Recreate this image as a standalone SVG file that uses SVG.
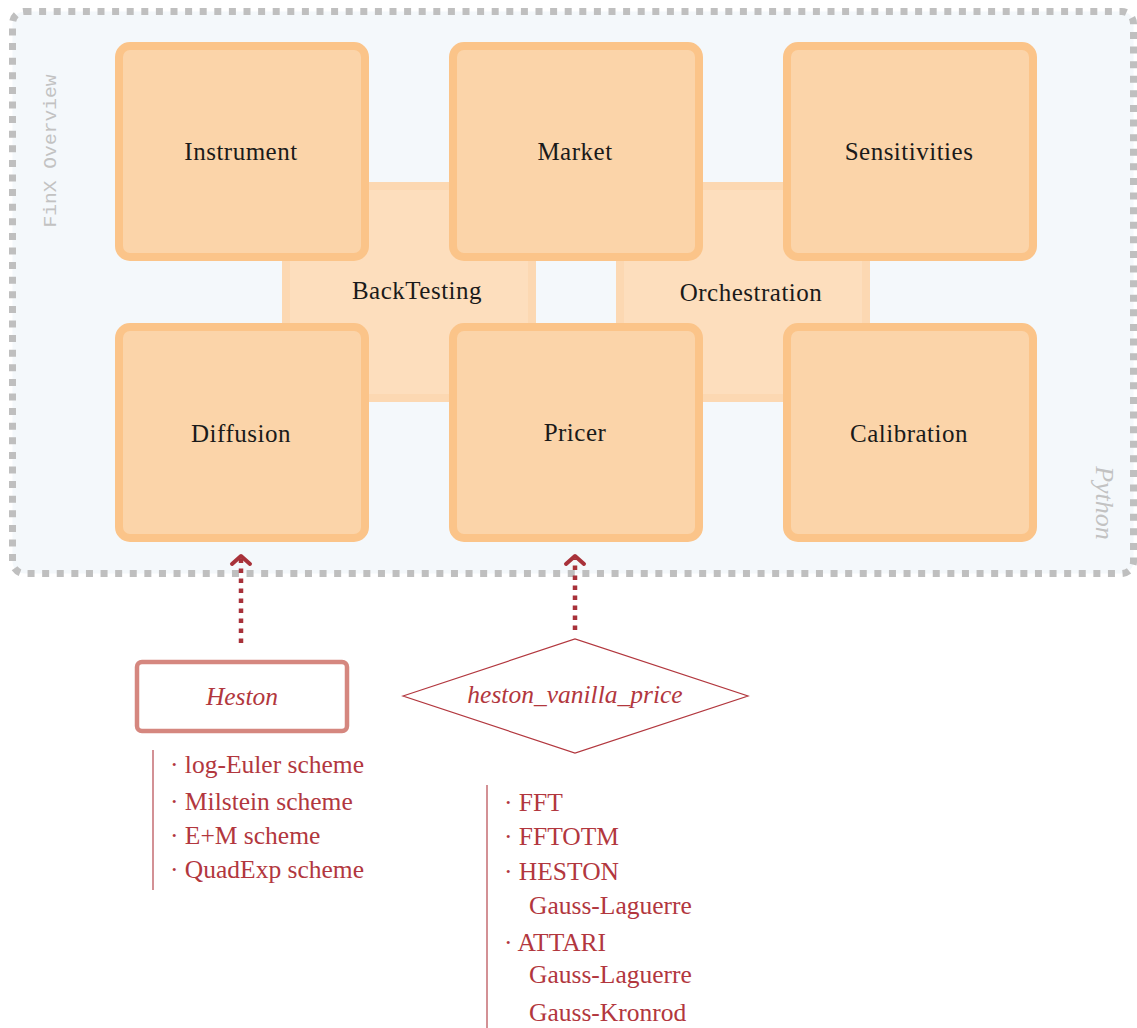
<svg xmlns="http://www.w3.org/2000/svg" width="1137" height="1028" viewBox="0 0 1137 1028">
  <defs>
    <style>
      .frame { fill: #f4f8fb; stroke: #bfbfbf; stroke-width: 7; stroke-dasharray: 7 7.6; }
      .mod { fill: #fbd4a9; stroke: #fbc489; stroke-width: 8; }
      .hub { fill: #fddebd; stroke: #fcd8b2; stroke-width: 8; }
      .lbl { font-family: "Liberation Serif", "DejaVu Serif", serif; font-size: 25px; letter-spacing: 0.5px; fill: #1a1a1a; text-anchor: middle; }
      .red { font-family: "Liberation Serif", "DejaVu Serif", serif; font-size: 25.5px; fill: #b2373e; }
      .ital { font-style: italic; text-anchor: middle; }
      .link { fill: none; stroke: #a8323a; stroke-width: 4.5; stroke-dasharray: 4.5 5.5; }
      .head { fill: none; stroke: #a8323a; stroke-width: 4; stroke-linecap: round; stroke-linejoin: round; }
      .rule { stroke: #c46c72; stroke-width: 1.5; }
    </style>
  </defs>

  <!-- package frame -->
  <g id="finx">
    <rect class="frame" x="12.5" y="11.5" width="1121" height="562" rx="12"/>
    <text x="56" y="151" transform="rotate(-90 56 151)" font-family="Liberation Mono, DejaVu Sans Mono, monospace" font-size="18" fill="#c2c2c2" text-anchor="middle" textLength="153" lengthAdjust="spacingAndGlyphs">FinX Overview</text>
    <text x="1096" y="503" transform="rotate(90 1096 503)" font-family="Liberation Serif, DejaVu Serif, serif" font-style="italic" font-size="26" fill="#c2c2c2" text-anchor="middle">Python</text>
  </g>

  <!-- hub modules behind the grid -->
  <g id="backtesting">
    <rect class="hub" x="286" y="186" width="246" height="212"/>
    <text class="lbl" x="417" y="299">BackTesting</text>
  </g>
  <g id="orchestration">
    <rect class="hub" x="620" y="186" width="246" height="212"/>
    <text class="lbl" x="751" y="301">Orchestration</text>
  </g>

  <!-- top row -->
  <g id="instrument">
    <rect class="mod" x="119" y="46" width="246" height="211" rx="11"/>
    <text class="lbl" x="241" y="160">Instrument</text>
  </g>
  <g id="market">
    <rect class="mod" x="453" y="46" width="246" height="211" rx="11"/>
    <text class="lbl" x="575" y="160">Market</text>
  </g>
  <g id="sensitivities">
    <rect class="mod" x="787" y="46" width="246" height="211" rx="11"/>
    <text class="lbl" x="909" y="160">Sensitivities</text>
  </g>

  <!-- bottom row -->
  <g id="diffusion">
    <rect class="mod" x="119" y="327" width="246" height="211" rx="11"/>
    <text class="lbl" x="241" y="442">Diffusion</text>
  </g>
  <g id="pricer">
    <rect class="mod" x="453" y="327" width="246" height="211" rx="11"/>
    <text class="lbl" x="575" y="441">Pricer</text>
  </g>
  <g id="calibration">
    <rect class="mod" x="787" y="327" width="246" height="211" rx="11"/>
    <text class="lbl" x="909" y="442">Calibration</text>
  </g>

  <!-- implementations -->
  <g id="heston">
    <rect x="137" y="662" width="210" height="69" rx="5" fill="#ffffff" stroke="#d5877f" stroke-width="4.5"/>
    <text class="red ital" x="242" y="705">Heston</text>
  </g>
  <g id="heston-vanilla-price">
    <polygon points="403,696 575,639 748,696 575,753" fill="#ffffff" stroke="#b2373e" stroke-width="1.2"/>
    <text class="red ital" x="575" y="703">heston_vanilla_price</text>
  </g>

  <!-- connectors -->
  <g id="connectors">
    <line class="link" x1="241" y1="643" x2="241" y2="559"/>
    <polyline class="head" points="232,564 241,556 250,564"/>
    <line class="link" x1="575" y1="630" x2="575" y2="559"/>
    <polyline class="head" points="566,564 575,556 584,564"/>
  </g>

  <!-- scheme notes -->
  <g id="heston-schemes">
    <line class="rule" x1="153" y1="750" x2="153" y2="890"/>
    <text class="red" x="170" y="773">· log-Euler scheme</text>
    <text class="red" x="170" y="810">· Milstein scheme</text>
    <text class="red" x="170" y="844">· E+M scheme</text>
    <text class="red" x="170" y="878">· QuadExp scheme</text>
  </g>
  <g id="pricer-methods">
    <line class="rule" x1="487" y1="785" x2="487" y2="1028"/>
    <text class="red" x="504" y="811">· FFT</text>
    <text class="red" x="504" y="845">· FFTOTM</text>
    <text class="red" x="504" y="880">· HESTON</text>
    <text class="red" x="529" y="914">Gauss-Laguerre</text>
    <text class="red" x="504" y="951">· ATTARI</text>
    <text class="red" x="529" y="983">Gauss-Laguerre</text>
    <text class="red" x="529" y="1021">Gauss-Kronrod</text>
  </g>
</svg>
